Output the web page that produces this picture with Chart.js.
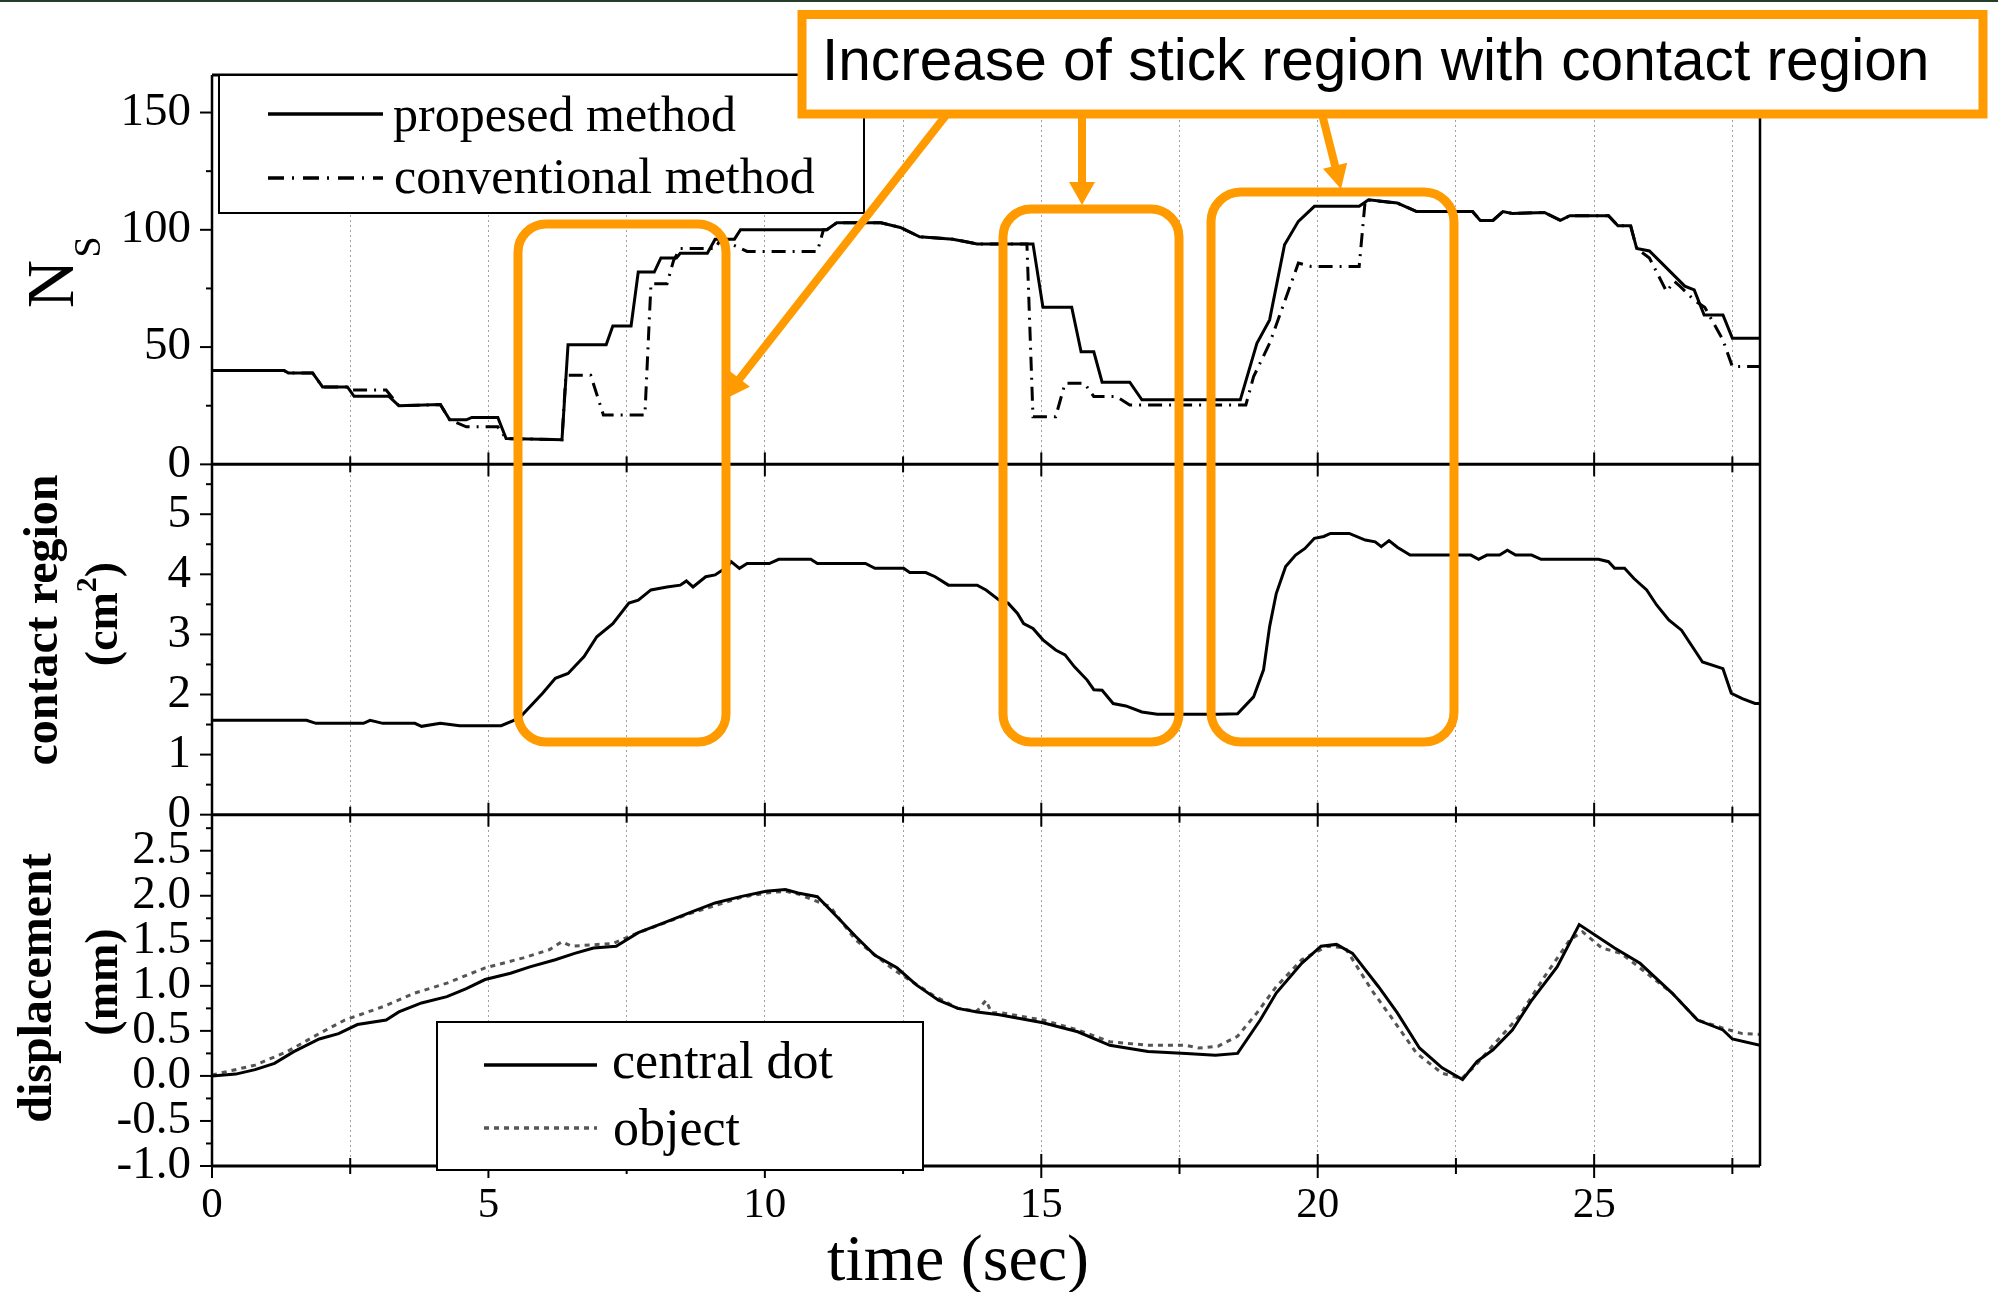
<!DOCTYPE html>
<html>
<head>
<meta charset="utf-8">
<script src="https://cdn.jsdelivr.net/npm/chart.js@4.4.0/dist/chart.umd.min.js"></script>
<style>
  html, body { margin: 0; padding: 0; background: #fff; }
  #wrap { position: relative; width: 1998px; height: 1292px; }
</style>
</head>
<body>
<div id="wrap"><canvas id="chart" width="1998" height="1292"></canvas></div>
<script>
// ---- data ----
const timeTicks = [0, 2.5, 5, 7.5, 10, 12.5, 15, 17.5, 20, 22.5, 25, 27.5];
const nsTicks = [0, 25, 50, 75, 100, 125, 150];
const contactTicks = [0, 0.5, 1, 1.5, 2, 2.5, 3, 3.5, 4, 4.5, 5, 5.5];
const dispTicks = [-1, -0.75, -0.5, -0.25, 0, 0.25, 0.5, 0.75, 1, 1.25, 1.5, 1.75, 2, 2.25, 2.5, 2.75];

const propT = [0, 1.3, 1.38, 1.82, 2.0, 2.45, 2.57, 3.2, 3.38, 4.13, 4.3, 4.6, 4.7, 5.17, 5.32, 6.33, 6.44, 7.13, 7.25, 7.58,
  7.71, 8.0, 8.12, 8.4, 8.47, 8.96, 9.1, 9.45, 9.56, 11.12, 11.3, 12.1, 12.45, 12.8, 13.4, 13.84, 14.85, 15.03, 15.55, 15.72,
  15.95, 16.1, 16.6, 16.82, 18.6, 18.9, 19.13, 19.4, 19.65, 19.94, 20.75, 20.92, 21.44, 21.79, 22.8, 22.94, 23.17, 23.35, 23.52, 24.1,
  24.39, 24.56, 25.26, 25.43, 25.66, 25.77, 26.0, 26.64, 26.81, 26.99, 27.33, 27.5, 28.0];
const propNs = [40, 40, 39, 39, 33, 33, 29, 29, 25, 25.5, 19, 19, 20, 20, 11, 10.5, 51, 51, 59, 59,
  82, 82, 88, 88, 90, 90, 96, 96, 100, 100, 103, 103, 101, 97, 96, 94, 94, 67, 67, 48,
  48, 35, 35, 27.5, 27.5, 51.6, 61.6, 93.6, 103.6, 110, 110, 112.8, 111.4, 107.8, 107.8, 104, 104, 107.8, 107, 107.4,
  104, 106, 106, 101.7, 101.7, 92, 91, 76, 74.4, 63.7, 63.7, 53.8, 53.8];

const convT = [0, 1.3, 1.38, 1.82, 2.0, 2.45, 2.52, 3.15, 3.38, 4.13, 4.3, 4.6, 4.7, 5.17, 5.32, 6.33, 6.4, 6.85, 7.08, 7.83,
  7.94, 8.23, 8.35, 8.47, 9.1, 9.2, 9.68, 10.95, 11.06, 11.12, 11.3, 12.1, 12.45, 12.8, 13.4, 13.84, 14.74, 14.85, 15.26, 15.43,
  15.78, 15.95, 16.36, 16.6, 18.7, 18.84, 19.13, 19.65, 19.88, 20.75, 20.86, 21.44, 21.79, 22.8, 22.94, 23.17, 23.35, 23.52, 24.1, 24.39,
  24.56, 25.26, 25.43, 25.66, 25.77, 26.0, 26.31, 26.45, 26.55, 26.81, 27.0, 27.33, 27.5, 28.0];
const convNs = [40, 40, 39, 39, 33, 33, 31.7, 31.7, 25, 25.5, 19, 16, 16, 16, 11, 10.5, 38, 38, 21, 21,
  77, 77, 87, 92, 92, 96, 90.8, 90.8, 100, 100, 103, 103, 101, 97, 96, 94, 94, 20.3, 20.3, 34.6,
  34.6, 28.9, 28.9, 25.3, 25.3, 37.4, 51.6, 85.8, 84.4, 84.4, 112.8, 111.4, 107.8, 107.8, 104, 104, 107.8, 107, 107.4, 104,
  106, 106, 101.7, 101.7, 92, 88, 73.7, 78, 76, 70, 67, 53, 41.7, 41.7];

const contactT = [0, 1.71, 1.88, 2.74, 2.86, 3.09, 3.67, 3.79, 4.13, 4.48,
  5.23, 5.46, 5.58, 5.98, 6.21, 6.44, 6.73, 6.96, 7.25, 7.54,
  7.71, 7.94, 8.23, 8.47, 8.58, 8.7, 8.93, 9.1, 9.33, 9.39,
  9.54, 9.68, 10.08, 10.25, 10.83, 10.95, 11.82, 11.99, 12.51, 12.62,
  12.91, 13.08, 13.32, 13.84, 14.0, 14.24, 14.4, 14.57, 14.68, 14.85,
  15.03, 15.26, 15.43, 15.6, 15.83, 15.95, 16.1, 16.3, 16.53, 16.82,
  17.1, 18.2, 18.55, 18.84, 19.02, 19.13, 19.25, 19.42, 19.6, 19.77,
  19.94, 20.11, 20.23, 20.57, 20.86, 21.04, 21.15, 21.29, 21.44, 21.67,
  22.77, 22.91, 23.06, 23.29, 23.43, 23.58, 23.87, 24.04, 25.08, 25.26,
  25.37, 25.55, 25.72, 25.95, 26.13, 26.35, 26.58, 26.76, 26.96, 27.33,
  27.48, 27.68, 27.91, 28.0];
const contactArea = [1.57, 1.57, 1.52, 1.52, 1.57, 1.52, 1.52, 1.47, 1.52, 1.48,
  1.48, 1.57, 1.63, 2.02, 2.27, 2.35, 2.63, 2.96, 3.18, 3.52,
  3.57, 3.74, 3.79, 3.82, 3.89, 3.79, 3.96, 3.99, 4.13, 4.21,
  4.1, 4.18, 4.18, 4.25, 4.25, 4.18, 4.18, 4.1, 4.1, 4.03,
  4.03, 3.96, 3.82, 3.82, 3.74, 3.57, 3.52, 3.35, 3.18, 3.1,
  2.91, 2.74, 2.66, 2.46, 2.24, 2.08, 2.07, 1.85, 1.81, 1.71,
  1.67, 1.67, 1.68, 1.96, 2.41, 3.13, 3.68, 4.13, 4.32, 4.43,
  4.6, 4.63, 4.68, 4.68, 4.57, 4.54, 4.46, 4.56, 4.45, 4.32,
  4.32, 4.25, 4.32, 4.32, 4.4, 4.32, 4.32, 4.25, 4.25, 4.21,
  4.1, 4.1, 3.93, 3.74, 3.49, 3.24, 3.07, 2.82, 2.54, 2.43,
  2.02, 1.93, 1.85, 1.85];

const dotT = [0, 0.43, 0.78, 1.13, 1.48, 1.94, 2.29, 2.63, 3.15, 3.38,
  3.79, 4.25, 4.6, 4.94, 5.4, 5.75, 6.21, 6.56, 6.9, 7.31,
  7.71, 8.17, 8.63, 9.1, 9.56, 10.02, 10.37, 10.6, 10.95, 11.3,
  11.64, 11.99, 12.39, 12.74, 13.14, 13.49, 13.84, 14.24, 15.03, 15.66,
  16.24, 16.93, 17.62, 18.15, 18.55, 18.96, 19.25, 19.71, 20.06, 20.34,
  20.63, 21.1, 21.44, 21.84, 22.25, 22.62, 22.88, 23.17, 23.52, 23.87,
  24.33, 24.73, 25.37, 25.83, 26.41, 26.87, 27.33, 27.5, 28.0];
const dotDisp = [0.0, 0.02, 0.07, 0.14, 0.27, 0.41, 0.47, 0.57, 0.62, 0.71,
  0.81, 0.88, 0.97, 1.07, 1.14, 1.21, 1.29, 1.36, 1.42, 1.44,
  1.59, 1.70, 1.81, 1.92, 1.99, 2.05, 2.07, 2.03, 1.99, 1.77,
  1.55, 1.34, 1.2, 1.01, 0.84, 0.75, 0.71, 0.68, 0.59, 0.49,
  0.34, 0.27, 0.25, 0.23, 0.25, 0.62, 0.92, 1.25, 1.44, 1.46,
  1.36, 0.99, 0.70, 0.31, 0.09, -0.04, 0.16, 0.29, 0.51, 0.84,
  1.21, 1.68, 1.42, 1.25, 0.92, 0.62, 0.51, 0.41, 0.34];

const objT = [0, 0.78, 1.36, 1.94, 2.4, 3.1, 3.67, 4.25, 4.94, 5.63,
  6.1, 6.33, 6.5, 7.25, 7.71, 8.63, 9.56, 10.02, 10.37, 10.6,
  11.18, 11.64, 12.33, 13.03, 13.49, 13.84, 14.0, 14.1, 14.28, 15.03,
  15.66, 16.24, 16.93, 17.62, 17.85, 18.2, 18.55, 18.9, 19.25, 19.71,
  20.17, 20.5, 20.98, 21.32, 21.79, 22.25, 22.6, 22.83, 23.17, 23.64,
  24.1, 24.56, 24.79, 25.14, 25.49, 25.95, 26.41, 26.87, 27.33, 27.68,
  28.0];
const objDisp = [0.01, 0.12, 0.27, 0.47, 0.62, 0.77, 0.92, 1.03, 1.2, 1.31,
  1.4, 1.49, 1.44, 1.47, 1.59, 1.80, 1.98, 2.03, 2.05, 2.02,
  1.88, 1.51, 1.18, 0.9, 0.75, 0.72, 0.84, 0.7, 0.7, 0.62,
  0.51, 0.38, 0.34, 0.34, 0.31, 0.33, 0.44, 0.70, 0.99, 1.29,
  1.44, 1.42, 0.95, 0.66, 0.25, 0.03, -0.03, 0.1, 0.34, 0.66,
  1.1, 1.51, 1.6, 1.42, 1.36, 1.14, 0.92, 0.62, 0.53, 0.47,
  0.46];

const noteText = "Increase of stick region with contact region";

// ---- drawing ----
const serif = '"Liberation Serif", "Times New Roman", serif';
const sans = '"Liberation Sans", Arial, sans-serif';
const orange = "rgb(255,155,0)";

const toPoints = (xs, ys) => xs.map((x, i) => ({ x: x, y: ys[i] }));
const isStep = (v, step) => Math.abs(v / step - Math.round(v / step)) < 1e-6;

function yScale(weight, min, max, ticks, labelStep, digits) {
  return {
    type: "linear", position: "left", stack: "panels", stackWeight: weight,
    min: min, max: max,
    afterFit: (s) => { s.width = 212; },
    afterBuildTicks: (s) => { s.ticks = ticks.map((v) => ({ value: v })); },
    ticks: {
      autoSkip: false, padding: 21, color: "#000",
      font: { family: serif, size: 47 },
      callback: (v) => (isStep(v, labelStep) ? v.toFixed(digits) : ""),
    },
    grid: { display: false, drawTicks: false },
    border: { display: false },
  };
}

function line(ctx, x1, y1, x2, y2) {
  ctx.beginPath();
  ctx.moveTo(x1, y1);
  ctx.lineTo(x2, y2);
  ctx.stroke();
}

function rotText(ctx, text, x, y, font) {
  ctx.save();
  ctx.translate(x, y);
  ctx.rotate(-Math.PI / 2);
  ctx.font = font;
  ctx.textAlign = "center";
  ctx.textBaseline = "alphabetic";
  ctx.fillText(text, 0, 0);
  ctx.restore();
}

function roundBox(ctx, x1, y1, x2, y2, r) {
  ctx.beginPath();
  ctx.moveTo(x1 + r, y1);
  ctx.arcTo(x2, y1, x2, y2, r);
  ctx.arcTo(x2, y2, x1, y2, r);
  ctx.arcTo(x1, y2, x1, y1, r);
  ctx.arcTo(x1, y1, x2, y1, r);
  ctx.closePath();
  ctx.stroke();
}

function arrow(ctx, x1, y1, x2, y2, headLen, headHalf) {
  const dx = x2 - x1, dy = y2 - y1;
  const len = Math.sqrt(dx * dx + dy * dy);
  const ux = dx / len, uy = dy / len;
  const bx = x2 - ux * headLen, by = y2 - uy * headLen;
  line(ctx, x1, y1, bx + ux * 2, by + uy * 2);
  ctx.beginPath();
  ctx.moveTo(x2, y2);
  ctx.lineTo(bx - uy * headHalf, by + ux * headHalf);
  ctx.lineTo(bx + uy * headHalf, by - ux * headHalf);
  ctx.closePath();
  ctx.fill();
}

function legendBox(ctx, chart, box, items) {
  ctx.fillStyle = "#fff";
  ctx.fillRect(box[0], box[1], box[2] - box[0], box[3] - box[1]);
  ctx.strokeStyle = "#000";
  ctx.lineWidth = 2;
  ctx.setLineDash([]);
  ctx.strokeRect(box[0], box[1], box[2] - box[0], box[3] - box[1]);
  items.forEach((it) => {
    const ds = chart.data.datasets[it.index];
    ctx.strokeStyle = ds.borderColor;
    ctx.lineWidth = 3.5;
    ctx.setLineDash(it.dash || []);
    line(ctx, it.x1, it.y, it.x2, it.y);
    ctx.setLineDash([]);
    ctx.fillStyle = "#000";
    ctx.font = it.font;
    ctx.textAlign = "left";
    ctx.textBaseline = "alphabetic";
    ctx.fillText(ds.label, it.tx, it.base);
  });
}

const overlay = {
  id: "overlay",
  afterDraw(chart) {
    const ctx = chart.ctx;
    const area = chart.chartArea;
    const xs = chart.scales.x;
    const panels = [chart.scales.yNs, chart.scales.yC, chart.scales.yD];
    ctx.save();

    ctx.fillStyle = "#263d2a";
    ctx.fillRect(0, 0, chart.width, 2);

    // frame
    ctx.strokeStyle = "#000";
    ctx.lineWidth = 2.5;
    line(ctx, area.left, area.top, area.left, area.bottom);
    line(ctx, area.right, area.top, area.right, area.bottom);
    const edges = [area.top].concat(panels.map((p) => p.bottom));
    ctx.lineWidth = 3;
    edges.forEach((y) => line(ctx, area.left, y, area.right, y));

    // time ticks on each panel edge
    ctx.lineWidth = 2;
    edges.forEach((y, i) => {
      timeTicks.forEach((t) => {
        const px = xs.getPixelForValue(t);
        const len = isStep(t, 5) ? 12 : 8;
        line(ctx, px, i === 0 ? y : y - len, px, y + len);
      });
    });

    // y ticks, outward
    panels.forEach((p) => {
      p.ticks.forEach((tk) => {
        const py = p.getPixelForValue(tk.value);
        const len = tk.label !== "" ? 12 : 6;
        line(ctx, area.left - len, py, area.left, py);
      });
    });

    // legends
    legendBox(ctx, chart, [219, 75, 864, 213], [
      { index: 0, x1: 268, x2: 383, y: 114, tx: 393, base: 131, font: "50px " + serif },
      { index: 1, x1: 268, x2: 383, y: 178, tx: 394, base: 193, font: "50px " + serif, dash: [16, 8, 2, 9] },
    ]);
    legendBox(ctx, chart, [437, 1022, 923, 1170], [
      { index: 3, x1: 484, x2: 597, y: 1065, tx: 612, base: 1078, font: "52px " + serif },
      { index: 4, x1: 484, x2: 597, y: 1128, tx: 613, base: 1145, font: "52px " + serif, dash: [5, 5] },
    ]);

    // axis titles
    ctx.fillStyle = "#000";
    rotText(ctx, "N", 73, 284, "67px " + serif);
    rotText(ctx, "S", 100, 247, "38px " + serif);
    rotText(ctx, "contact region", 57, 620, "bold 48px " + serif);
    rotText(ctx, "displacement", 51, 988, "bold 48px " + serif);
    rotText(ctx, "(mm)", 117, 982, "bold 46px " + serif);

    // (cm2) with superscript
    ctx.save();
    ctx.translate(117, 614);
    ctx.rotate(-Math.PI / 2);
    ctx.textBaseline = "alphabetic";
    ctx.textAlign = "left";
    const big = "bold 46px " + serif, small = "bold 30px " + serif;
    ctx.font = big;
    const w1 = ctx.measureText("(cm").width, w3 = ctx.measureText(")").width;
    ctx.font = small;
    const w2 = ctx.measureText("2").width;
    let x0 = -(w1 + w2 + w3) / 2;
    ctx.font = big;
    ctx.fillText("(cm", x0, 0);
    ctx.font = small;
    ctx.fillText("2", x0 + w1, -21);
    ctx.font = big;
    ctx.fillText(")", x0 + w1 + w2, 0);
    ctx.restore();

    ctx.font = "66px " + serif;
    ctx.textAlign = "center";
    ctx.fillText("time (sec)", 958, 1280);

    // annotations
    ctx.strokeStyle = orange;
    ctx.fillStyle = orange;
    ctx.lineWidth = 9;
    ctx.lineJoin = "miter";
    roundBox(ctx, 518, 224, 726, 742, 28);
    roundBox(ctx, 1003, 209, 1179, 742, 28);
    roundBox(ctx, 1211, 192, 1454, 742, 30);
    ctx.lineWidth = 8;
    arrow(ctx, 947, 114, 723, 400, 27, 13);
    arrow(ctx, 1082, 114, 1082, 205, 23, 13);
    arrow(ctx, 1322, 114, 1341, 189, 24, 12.5);

    ctx.fillStyle = "#fff";
    ctx.fillRect(802, 14.5, 1181, 99.5);
    ctx.lineWidth = 9;
    ctx.strokeRect(802, 14.5, 1181, 99.5);
    ctx.fillStyle = "#000";
    ctx.font = "58.6px " + sans;
    ctx.textAlign = "left";
    ctx.fillText(noteText, 822, 80);

    ctx.restore();
  },
};

new Chart(document.getElementById("chart"), {
  type: "line",
  data: {
    datasets: [
      { label: "propesed method", data: toPoints(propT, propNs), yAxisID: "yNs",
        borderColor: "#000", borderWidth: 3 },
      { label: "conventional method", data: toPoints(convT, convNs), yAxisID: "yNs",
        borderColor: "#000", borderWidth: 3, borderDash: [14, 7, 2, 7] },
      { label: "contact region", data: toPoints(contactT, contactArea), yAxisID: "yC",
        borderColor: "#000", borderWidth: 3 },
      { label: "central dot", data: toPoints(dotT, dotDisp), yAxisID: "yD",
        borderColor: "#000", borderWidth: 3 },
      { label: "object", data: toPoints(objT, objDisp), yAxisID: "yD",
        borderColor: "#555", borderWidth: 3, borderDash: [5, 5] },
    ],
  },
  options: {
    responsive: false,
    animation: false,
    events: [],
    elements: { point: { radius: 0 }, line: { tension: 0, fill: false } },
    layout: { padding: { top: 75, right: 238, left: 0, bottom: 0 } },
    plugins: { legend: { display: false }, tooltip: { enabled: false } },
    scales: {
      x: {
        type: "linear", min: 0, max: 28,
        afterFit: (s) => { s.height = 126; },
        afterBuildTicks: (s) => { s.ticks = timeTicks.map((v) => ({ value: v })); },
        ticks: {
          autoSkip: false, maxRotation: 0, padding: 14, color: "#000",
          font: { family: serif, size: 43 },
          callback: (v) => (isStep(v, 5) ? String(v) : ""),
        },
        grid: { color: "#a0a0a0", lineWidth: 1, drawTicks: false },
        border: { display: false, dash: [2, 3] },
      },
      // stacked panels are laid out bottom-up in definition order
      yD: yScale(351, -1, 2.9, dispTicks, 0.5, 1),
      yC: yScale(350, 0, 5.83, contactTicks, 1, 0),
      yNs: yScale(389, 0, 166, nsTicks, 50, 0),
    },
  },
  plugins: [overlay],
});
</script>
</body>
</html>
